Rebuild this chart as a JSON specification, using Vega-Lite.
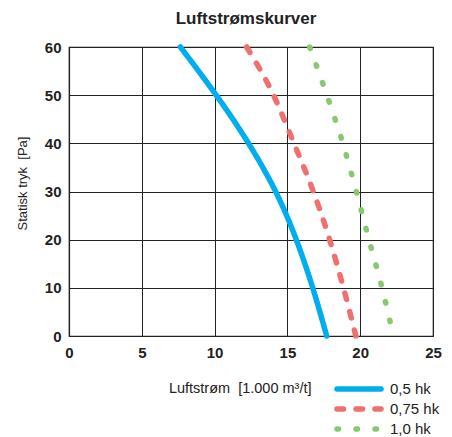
{
  "$schema": "https://vega.github.io/schema/vega-lite/v6.json",
  "autosize": "none",
  "width": 364,
  "height": 289,
  "padding": {"left": 69, "top": 47, "right": 19, "bottom": 101},
  "background": "white",
  "title": {
    "text": "Luftstrømskurver",
    "font": "Liberation Sans",
    "fontSize": 17,
    "fontWeight": "bold",
    "color": "#222222",
    "anchor": "middle",
    "dx": -5,
    "offset": 8
  },
  "config": {
    "view": {"stroke": "#222222", "strokeWidth": 1.2},
    "font": "Liberation Sans"
  },
  "data": {
    "values": [
      {"serie": "0,5 hk", "x": 7.65, "y": 60},
      {"serie": "0,5 hk", "x": 8.9, "y": 55},
      {"serie": "0,5 hk", "x": 10.11, "y": 50},
      {"serie": "0,5 hk", "x": 11.26, "y": 45},
      {"serie": "0,5 hk", "x": 12.33, "y": 40},
      {"serie": "0,5 hk", "x": 13.31, "y": 35},
      {"serie": "0,5 hk", "x": 14.19, "y": 30},
      {"serie": "0,5 hk", "x": 14.95, "y": 25},
      {"serie": "0,5 hk", "x": 15.61, "y": 20},
      {"serie": "0,5 hk", "x": 16.2, "y": 15},
      {"serie": "0,5 hk", "x": 16.74, "y": 10},
      {"serie": "0,5 hk", "x": 17.23, "y": 5},
      {"serie": "0,5 hk", "x": 17.7, "y": 0},
      {"serie": "0,75 hk", "x": 12.2, "y": 60},
      {"serie": "0,75 hk", "x": 14.05, "y": 50},
      {"serie": "0,75 hk", "x": 15.45, "y": 40},
      {"serie": "0,75 hk", "x": 16.78, "y": 30},
      {"serie": "0,75 hk", "x": 17.9, "y": 20},
      {"serie": "0,75 hk", "x": 18.85, "y": 10},
      {"serie": "0,75 hk", "x": 19.7, "y": 0},
      {"serie": "1,0 hk", "x": 16.53, "y": 60},
      {"serie": "1,0 hk", "x": 17.71, "y": 50},
      {"serie": "1,0 hk", "x": 18.81, "y": 40},
      {"serie": "1,0 hk", "x": 19.73, "y": 30},
      {"serie": "1,0 hk", "x": 20.6, "y": 20},
      {"serie": "1,0 hk", "x": 21.5, "y": 10},
      {"serie": "1,0 hk", "x": 22.28, "y": 0}
    ]
  },
  "mark": {"type": "line", "strokeWidth": 5.5, "strokeCap": "round", "interpolate": "monotone", "clip": false},
  "encoding": {
    "x": {
      "field": "x",
      "type": "quantitative",
      "scale": {"domain": [0, 25], "nice": false, "zero": false},
      "axis": {
        "values": [0, 5, 10, 15, 20, 25],
        "grid": true,
        "gridColor": "#222222",
        "gridOpacity": 1,
        "gridWidth": 1,
        "domainColor": "#222222",
        "domainWidth": 1.2,
        "ticks": false,
        "labelFont": "Liberation Sans",
        "labelFontSize": 15,
        "labelFontWeight": "bold",
        "labelColor": "#222222",
        "labelPadding": 9,
        "labelFlush": false,
        "title": "Luftstrøm\u00a0 [1.000 m³/t]",
        "titleFont": "Liberation Sans",
        "titleFontSize": 14.5,
        "titleFontWeight": "normal",
        "titleColor": "#222222",
        "titleAlign": "right",
        "titleAnchor": "start",
        "titleBaseline": "middle",
        "titleX": 242,
        "titleY": 52
      }
    },
    "y": {
      "field": "y",
      "type": "quantitative",
      "scale": {"domain": [0, 60], "nice": false},
      "axis": {
        "values": [0, 10, 20, 30, 40, 50, 60],
        "grid": true,
        "gridColor": "#222222",
        "gridOpacity": 1,
        "gridWidth": 1,
        "domainColor": "#222222",
        "domainWidth": 1.2,
        "ticks": false,
        "labelFont": "Liberation Sans",
        "labelFontSize": 15,
        "labelFontWeight": "bold",
        "labelColor": "#222222",
        "labelPadding": 8,
        "labelFlush": false,
        "title": "Statisk tryk\u00a0 [Pa]",
        "titleFont": "Liberation Sans",
        "titleFontSize": 13,
        "titleFontWeight": "normal",
        "titleColor": "#222222",
        "titleAngle": 270,
        "titleAlign": "center",
        "titleBaseline": "middle",
        "titleX": -47,
        "titleY": 136
      }
    },
    "color": {
      "field": "serie",
      "type": "nominal",
      "scale": {"domain": ["0,5 hk", "0,75 hk", "1,0 hk"], "range": ["#00AEEF", "#F07070", "#88C870"]},
      "legend": {
        "orient": "none",
        "legendX": 282,
        "legendY": 334,
        "title": null,
        "symbolType": "M-4.4,0H4.4",
        "symbolSize": 100,
        "symbolStrokeWidth": 5.5,
        "labelFont": "Liberation Sans",
        "labelFontSize": 15,
        "labelColor": "#222222",
        "labelOffset": 23,
        "rowPadding": -2,
        "padding": 0,
        "encode": {"symbols": {"update": {"strokeCap": {"value": "round"}}}}
      }
    },
    "strokeDash": {
      "field": "serie",
      "type": "nominal",
      "scale": {"domain": ["0,5 hk", "0,75 hk", "1,0 hk"], "range": [[1, 0], [6.5, 12.5], [1.5, 17.5]]},
      "legend": null
    }
  }
}
